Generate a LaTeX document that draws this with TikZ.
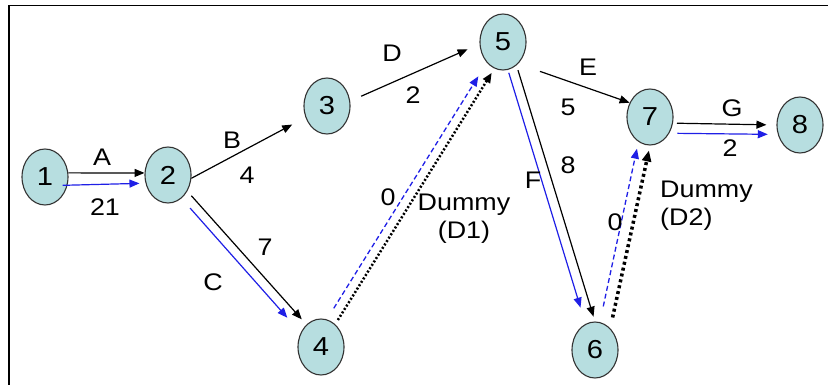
\documentclass[tikz,border=0pt]{standalone}
\usepackage{fontspec}
\setmainfont{Liberation Sans}[FakeStretch=1.12]
\usetikzlibrary{arrows.meta,shapes.geometric}
\definecolor{eventfill}{HTML}{B7DEE0}
\definecolor{critical}{HTML}{1F1FE6}

\begin{document}
\begin{tikzpicture}[x=1pt,y=-1pt,
  event/.style={draw=black!80,ellipse,fill=eventfill,line width=1.1pt,minimum width=46pt,minimum height=56pt,inner sep=0pt,font=\fontsize{26}{26}\selectfont},
  act/.style={-{Triangle[length=10pt,width=8pt]},line width=1.2pt},
  crit/.style={act,critical},
  dummy/.style={-{Triangle[length=10pt,width=8pt]},line width=2.5pt,dash pattern=on 2pt off 2pt},
  bigdummy/.style={-{Triangle[length=11pt,width=9pt]},line width=3.5pt,dash pattern=on 3pt off 3pt},
  critdummy/.style={-{Triangle[length=10pt,width=8pt]},line width=1.3pt,critical,dash pattern=on 5pt off 3pt},
  lbl/.style={font=\fontsize{24}{28}\selectfont,inner sep=0pt},
]
  \useasboundingbox (0,0) rectangle (828,385);
  % frame
  \draw[line width=2.5pt] (9,385) -- (9,5.5);
  \draw[line width=1.5pt] (9,5.5) -- (828,5.5);

  % events
  \node[event] (n1) at (45,177) {1};
  \node[event] (n2) at (168,175) {2};
  \node[event] (n3) at (327,106) {3};
  \node[event] (n4) at (321,347) {4};
  \node[event] (n5) at (503,42) {5};
  \node[event] (n6) at (595,350) {6};
  \node[event] (n7) at (650,117) {7};
  \node[event] (n8) at (800,125) {8};

  % activities
  \draw[act] (n1.10) -- (n2.175);
  \draw[crit,shorten <=-5pt,shorten >=6pt] (n1.-20) -- (n2.200);
  \draw[act,shorten >=15pt] (n2.-8) -- (n3);
  \draw[act,shorten <=6pt,shorten >=7pt] (n2.-40) -- (n4.123);
  \draw[crit,shorten <=13pt,shorten >=20pt] (n2.-60) -- (n4.145);
  \draw[act,shorten <=12pt,shorten >=13pt] (n3.12) -- (n5.185);
  \draw[act,shorten <=23pt] (n5.-55) -- (n7.145);
  \draw[act,shorten <=5pt,shorten >=5pt] (n5.-60) -- (n6.90);
  \draw[crit,shorten <=3pt,shorten >=17pt] (n5.-80) -- (n6.110);
  \draw[act,shorten <=4pt,shorten >=10pt] (n7.-15) -- (n8.180);
  \draw[crit,shorten <=8pt,shorten >=10pt] (n7.-40) -- (n8.203);

  % dummies
  \draw[critdummy,shorten <=13pt,shorten >=16pt] (n4.78) -- (n5.232);
  \draw[dummy,shorten <=5pt,shorten >=5pt] (n4.58) -- (n5.252);
  \draw[critdummy,shorten <=16pt,shorten >=7pt] (n6.80) -- (n7.245);
  \draw[bigdummy,shorten <=11pt,shorten >=5pt] (n6.55) -- (n7.270);

  % labels
  \node[lbl] (labA) at (102,157) {A};
  \node[lbl] (durA) at (105,207) {21};
  \node[lbl] (labB) at (232,140) {B};
  \node[lbl] (durB) at (247,175) {4};
  \node[lbl] (labC) at (213,282) {C};
  \node[lbl] (durC) at (265,247) {7};
  \node[lbl] (labD) at (392,53) {D};
  \node[lbl] (durD) at (413,95) {2};
  \node[lbl] (durD1) at (388,197) {0};
  \node[lbl,align=center] (labD1) at (464,219) {Dummy\\(D1)};
  \node[lbl] (labE) at (588,67) {E};
  \node[lbl] (durE) at (568,107) {5};
  \node[lbl] (labF) at (533,180) {F};
  \node[lbl] (durF) at (568,165) {8};
  \node[lbl] (durD2) at (615,222) {0};
  \node[lbl,align=left,anchor=west] (labD2) at (660,206) {Dummy\\(D2)};
  \node[lbl] (labG) at (732,108) {G};
  \node[lbl] (durG) at (730,148) {2};
\end{tikzpicture}
\end{document}
